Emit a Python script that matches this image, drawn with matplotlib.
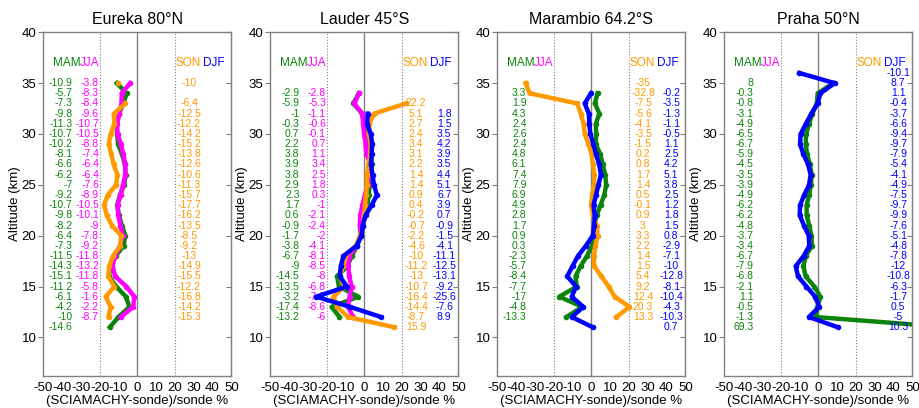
import matplotlib.pyplot as plt
import numpy as np

plt.rcParams['font.family'] = ['Liberation Sans', 'DejaVu Sans']
plt.rcParams['axes.unicode_minus'] = False

nan = np.nan

stations = ['Eureka 80°N', 'Lauder 45°S', 'Marambio 64.2°S', 'Praha 50°N']
seasons = ['MAM', 'JJA', 'SON', 'DJF']
colors = {'MAM': '#0c840c', 'JJA': '#ff00ff', 'SON': '#ff9900', 'DJF': '#0000ff'}

# top altitude (km) of each profile, values go down in 1 km steps
eu_mam_top, eu_mam = 35, [-10.9, -5.7, -7.3, -9.8, -11.3, -10.7, -10.2, -8.1, -6.6, -6.2, -7, -9.2, -10.7,
                          -9.8, -8.2, -6.4, -7.3, -11.5, -14.3, -15.1, -11.2, -6.1, -4.2, -10, -14.6]
eu_jja_top, eu_jja = 35, [-3.8, -8.3, -8.4, -9.6, -10.7, -10.5, -8.8, -7.4, -6.4, -6.4, -7.6, -8.9, -10.5,
                          -10.1, -9, -7.8, -9.2, -11.8, -13.2, -11.8, -5.8, -1.6, -2.2, -8.7]
eu_son_top, eu_son = 35, [-10, nan, -6.4, -12.5, -12.2, -14.2, -15.2, -13.8, -12.6, -10.6, -11.3, -15.7,
                          -17.7, -16.2, -13.5, -8.5, -9.2, -13, -14.9, -15.5, -12.2, -16.8, -14.2, -15.3]

la_mam_top, la_mam = 34, [-2.9, -5.9, -1, -0.3, 0.7, 2.2, 3.8, 3.9, 3.8, 2.9, 2.3, 1.7, 0.6, -0.9, -1.7,
                          -3.8, -6.7, -9, -14.5, -13.5, -3.2, -17.4, -13.2]
la_jja_top, la_jja = 34, [-2.8, -5.3, -1.1, -0.6, -0.1, 0.7, 1.1, 3.4, 2.5, 1.8, 0.3, -1, -2.1, -2.4, -2,
                          -4.1, -8.1, -8.5, -8, -6.8, -7.8, -8.6, -6]
la_son_top, la_son = 33, [22.2, 5.1, 2.7, 2.4, 3.4, 3.1, 2.2, 1.4, 1.4, 0.9, 0.4, -0.2, -0.7, -2.2, -4.6,
                          -10, -11.2, -13, -10.7, -16.4, -14.4, -8.7, 15.9]
la_djf_top, la_djf = 32, [1.8, 1.5, 3.5, 4.2, 3.9, 3.5, 4.4, 5.1, 6.7, 3.9, 0.7, -0.9, -1.5, -4.1, -11.1,
                          -12.5, -13.1, -9.2, -25.6, -7.6, 8.9]

ma_mam_top, ma_mam = 34, [3.3, 1.9, 4.3, 2.4, 2.6, 2.4, 4.8, 6.1, 7.4, 7.9, 6.9, 4.9, 2.8, 1.7, 0.9, 0.3,
                          -2.3, -5.7, -8.4, -7.7, -17, -4.8, -13.3]
ma_son_top, ma_son = 35, [-35, -32.8, -7.5, -5.6, -4.1, -3.5, -1.5, 0.2, 0.8, 1.7, 1.4, 0.5, -0.1, 0.9, 3,
                          3.3, 2.2, 1.4, 1.5, 5.4, 9.2, 12.4, 20.3, 13.3]
ma_djf_top, ma_djf = 34, [-0.2, -3.5, -1.3, -1.1, -0.5, 1.1, 2.5, 4.2, 5.1, 3.8, 2.5, 1.2, 1.8, 1.5, 0.8,
                          -2.9, -7.1, -10, -12.8, -8.1, -10.4, -4.3, -10.3, 0.7]

pr_mam_top, pr_mam = 35, [8, -0.3, -0.8, -3.1, -4.9, -6.5, -6.7, -5.9, -4.5, -3.5, -3.9, -4.9, -6.2, -6.2,
                          -4.8, -3.7, -3.4, -6.7, -7.9, -6.8, -2.1, 1.1, -0.5, -1.3, 69.3]
pr_djf_top, pr_djf = 36, [-10.1, 8.7, 1.1, -0.4, -3.7, -6.6, -9.4, -9.7, -7.9, -5.4, -4.1, -4.9, -7.5,
                          -9.7, -9.9, -7.6, -5.1, -4.8, -7.8, -12, -10.8, -6.3, -1.7, 0.5, -5, 10.3]

panels = [
    {'MAM': (eu_mam_top, eu_mam), 'JJA': (eu_jja_top, eu_jja), 'SON': (eu_son_top, eu_son)},
    {'MAM': (la_mam_top, la_mam), 'JJA': (la_jja_top, la_jja), 'SON': (la_son_top, la_son),
     'DJF': (la_djf_top, la_djf)},
    {'MAM': (ma_mam_top, ma_mam), 'SON': (ma_son_top, ma_son), 'DJF': (ma_djf_top, ma_djf)},
    {'MAM': (pr_mam_top, pr_mam), 'DJF': (pr_djf_top, pr_djf)},
]

# column of numbers: x position (data units) and alignment
text_x = {'MAM': (-34.5, 'right'), 'JJA': (-20.4, 'right'), 'SON': (27.5, 'center'), 'DJF': (42.5, 'center')}
head_x = {'MAM': (-30.2, 'right'), 'JJA': (-20.0, 'right'), 'SON': (20.3, 'left'), 'DJF': (35.0, 'left')}

fig = plt.figure(figsize=(9.2, 4.08), dpi=100)
W, H = 920, 408

for i, (name, data) in enumerate(zip(stations, panels)):
    ax = fig.add_axes([(43.3 + 227 * i) / W, (H - 376) / H, 188 / W, (376 - 32.3) / H])

    ax.axvline(0, color='gray', lw=1, zorder=1)
    ax.axvline(-20, color='gray', ls=':', lw=0.8, zorder=1)
    ax.axvline(20, color='gray', ls=':', lw=0.8, zorder=1)

    for s in seasons:
        if s not in data:
            continue
        top, vals = data[s]
        vals = np.array(vals, dtype=float)
        alt = top - np.arange(len(vals))
        ax.plot(vals, alt, color=colors[s], lw=3.2, marker='o', ms=3, zorder=3)
        tx, ha = text_x[s]
        for a, v in zip(alt, vals):
            if np.isnan(v):
                continue
            ax.text(tx, a, '%g' % v, color=colors[s], fontsize=7.5, ha=ha, va='center')

    for s in seasons:
        hx, ha = head_x[s]
        ax.text(hx, 37, s, color=colors[s], fontsize=8.5, ha=ha, va='center')

    ax.set_xlim(-50, 50)
    ax.set_ylim(6.2, 40)
    ax.set_xticks(np.arange(-50, 51, 10))
    ax.set_yticks(np.arange(10, 41, 5))
    ax.tick_params(axis='x', length=0, pad=4, labelsize=9.5)
    ax.tick_params(axis='y', direction='out', length=3.5, pad=1.5, labelsize=9.5, color='gray')
    sec = ax.secondary_yaxis('right')
    sec.set_yticks(np.arange(10, 41, 5))
    sec.tick_params(direction='in', length=3.5, labelright=False, color='gray')
    sec.spines['right'].set_color('gray')
    for sp in ax.spines.values():
        sp.set_color('gray')
        sp.set_linewidth(1)

    ax.set_title(name, fontsize=11.5, pad=6)
    ax.set_xlabel('(SCIAMACHY-sonde)/sonde %', fontsize=9.5, labelpad=1)
    ax.set_ylabel('Altitude (km)', fontsize=9.5, labelpad=0)

fig.savefig('out.png', dpi=100)
